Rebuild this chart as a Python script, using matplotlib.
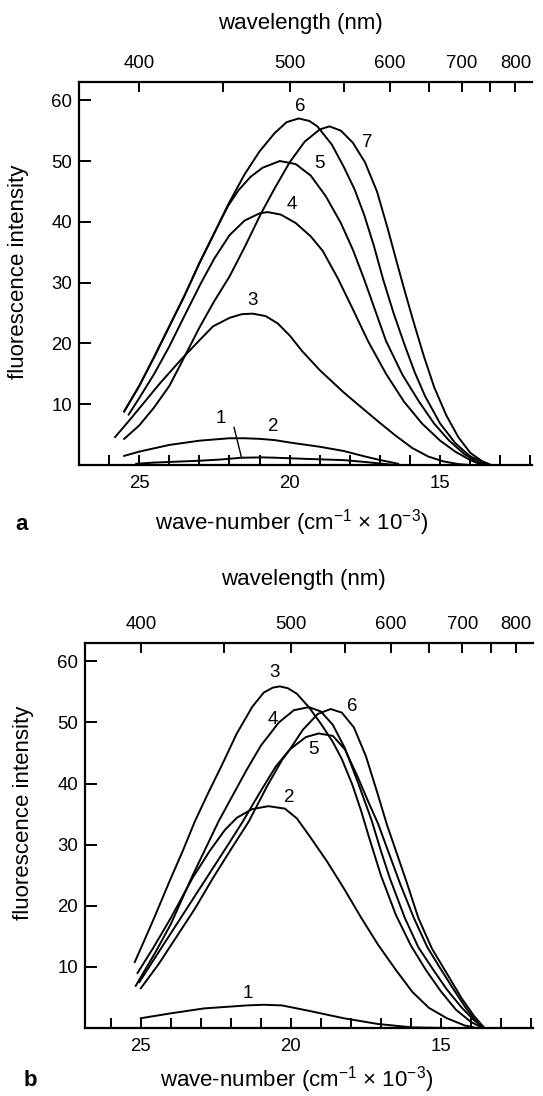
import numpy as np
import matplotlib
matplotlib.use("Agg")
import matplotlib.pyplot as plt

plt.rcParams['font.family'] = ['Liberation Sans', 'DejaVu Sans']
plt.rcParams['mathtext.default'] = 'regular'

W, H = 543, 1096

# ---------------- panel a: wave-number (x10^3 cm-1) / intensity ----------------
a1_nu = [25.1, 24.5, 24.0, 23.0, 22.3, 21.6, 20.9, 20.5, 19.4, 18.2, 17.5, 16.5]
a1_I = [0.2, 0.4, 0.5, 0.7, 0.9, 1.2, 1.25, 1.2, 1.0, 0.8, 0.5, 0.0]

a2_nu = [25.5, 25.0, 24.0, 23.0, 22.0, 21.5, 21.0, 20.5, 20.0, 19.0, 18.2, 17.5, 17.07, 16.4]
a2_I = [1.5, 2.2, 3.3, 4.0, 4.4, 4.4, 4.3, 4.1, 3.7, 3.0, 2.3, 1.4, 0.9, 0.2]

a3_nu = [25.8, 25.3, 24.8, 24.3, 23.58, 23.0, 22.55, 22.0, 21.6, 21.24, 20.8, 20.4, 20.0,
         19.58, 19.0, 18.22, 17.6, 17.07, 16.5, 15.93, 15.4, 14.9, 14.4, 14.0]
a3_I = [4.6, 7.5, 10.5, 13.5, 17.5, 20.5, 22.8, 24.2, 24.8, 24.9, 24.5, 23.3, 21.3,
        18.7, 15.6, 12.0, 9.4, 7.2, 4.9, 2.8, 1.4, 0.6, 0.15, 0.0]

a4_nu = [25.35, 25.0, 24.5, 24.0, 23.5, 22.94, 22.5, 22.0, 21.5, 21.0, 20.73, 20.3, 19.8,
         19.3, 18.9, 18.39, 17.9, 17.4, 16.8, 16.2, 15.6, 15.0, 14.5, 14.0, 13.6]
a4_I = [8.3, 11.0, 15.0, 19.5, 24.5, 30.0, 34.0, 37.8, 40.2, 41.4, 41.6, 41.2, 39.8,
        37.6, 35.2, 30.6, 25.6, 20.4, 15.0, 10.4, 6.8, 4.0, 2.2, 0.8, 0.0]

a5_nu = [25.5, 25.0, 24.5, 24.0, 23.5, 23.0, 22.5, 22.05, 21.7, 21.3, 20.9, 20.33, 19.8,
         19.3, 18.8, 18.3, 17.9, 17.53, 17.2, 16.8, 16.25, 15.7, 15.2, 14.7, 14.2, 13.8, 13.45]
a5_I = [8.8, 13.0, 17.8, 22.8, 27.8, 33.2, 38.2, 42.6, 45.2, 47.4, 48.9, 50.0, 49.5,
        47.6, 44.2, 39.8, 35.4, 30.6, 26.0, 20.4, 14.8, 10.4, 6.8, 4.0, 1.8, 0.6, 0.0]

a6_nu = [25.5, 25.0, 24.5, 24.0, 23.5, 23.0, 22.5, 22.05, 21.5, 21.0, 20.5, 20.1, 19.7,
         19.35, 19.08, 18.6, 18.22, 17.85, 17.53, 17.2, 16.9, 16.55, 16.2, 15.85, 15.5,
         15.0, 14.5, 14.0, 13.35]
a6_I = [8.8, 13.0, 17.8, 22.8, 27.8, 33.2, 38.2, 42.8, 47.8, 51.6, 54.6, 56.4, 57.0,
        56.6, 55.7, 52.7, 49.2, 45.4, 41.2, 36.0, 30.6, 25.0, 20.0, 15.3, 11.3,
        6.8, 3.6, 1.4, 0.0]

a7_nu = [25.5, 25.0, 24.5, 24.0, 23.6, 23.0, 22.5, 22.0, 21.5, 20.96, 20.5, 20.0, 19.5,
         19.0, 18.68, 18.3, 17.9, 17.5, 17.1, 16.75, 16.45, 16.2, 15.9, 15.55, 15.2, 14.8,
         14.4, 14.0, 13.6, 13.3]
a7_I = [4.3, 6.5, 9.5, 13.0, 16.8, 22.6, 27.0, 31.0, 35.8, 41.3, 45.5, 49.8, 53.2,
        55.2, 55.7, 55.0, 53.0, 49.8, 45.0, 39.0, 33.5, 29.0, 23.8, 18.0, 12.8, 8.2,
        4.6, 2.0, 0.6, 0.0]

# ---------------- panel b ----------------
b1_nu = [25.0, 24.0, 22.9, 21.45, 20.9, 20.3, 19.39, 18.24, 17.09, 15.95, 14.8]
b1_I = [1.6, 2.4, 3.2, 3.7, 3.8, 3.7, 2.8, 1.6, 0.65, 0.1, 0.0]

b2_nu = [25.11, 24.6, 24.0, 23.27, 22.7, 22.2, 21.8, 21.3, 20.75, 20.2, 19.8, 19.39, 18.8,
         18.24, 17.65, 17.09, 16.5, 15.95, 15.4, 14.8, 14.2, 13.8]
b2_I = [9.0, 13.0, 18.0, 24.6, 29.0, 32.4, 34.4, 35.8, 36.3, 35.9, 34.3, 31.5, 27.3,
        22.9, 18.0, 13.6, 9.5, 5.9, 3.3, 1.6, 0.4, 0.0]

b3_nu = [25.2, 24.6, 24.0, 23.6, 23.2, 22.75, 22.3, 21.8, 21.28, 20.9, 20.6, 20.37, 20.1,
         19.8, 19.4, 19.0, 18.6, 18.3, 17.95, 17.65, 17.4, 17.0, 16.5, 16.0, 15.5, 15.0,
         14.5, 14.0, 13.6]
b3_I = [10.8, 17.5, 24.5, 29.0, 33.8, 38.5, 43.0, 48.2, 52.6, 54.9, 55.7, 55.9, 55.6,
        54.7, 52.5, 49.8, 46.8, 44.0, 39.8, 35.4, 31.3, 25.0, 18.5, 13.5, 9.5, 6.0,
        3.0, 1.0, 0.0]

b4_nu = [25.17, 24.5, 24.0, 23.27, 22.8, 22.41, 22.0, 21.5, 21.0, 20.4, 19.9, 19.4, 19.0,
         18.6, 18.2, 17.75, 17.31, 17.0, 16.7, 16.2, 15.75, 15.25, 14.8, 14.3, 13.9, 13.55]
b4_I = [6.9, 12.5, 17.0, 25.0, 29.8, 33.8, 37.5, 42.0, 46.2, 50.0, 52.0, 52.5, 51.8,
        49.6, 45.8, 40.0, 34.0, 29.0, 24.5, 18.0, 13.2, 9.5, 6.3, 3.3, 1.3, 0.0]

b5_nu = [25.05, 24.5, 24.0, 23.5, 23.0, 22.5, 22.0, 21.6, 21.0, 20.5, 20.03, 19.5, 19.07,
         18.6, 18.2, 17.8, 17.4, 17.09, 16.8, 16.35, 15.9, 15.45, 15.05, 14.6, 14.2, 13.85, 13.55]
b5_I = [7.5, 11.7, 15.5, 19.3, 23.1, 26.9, 30.7, 33.8, 38.8, 42.8, 45.6, 47.6, 48.2,
        47.8, 45.6, 41.4, 36.8, 33.4, 29.5, 23.5, 18.0, 13.2, 10.0, 6.5, 3.5, 1.2, 0.0]

b6_nu = [25.0, 24.4, 23.8, 23.2, 22.6, 22.0, 21.4, 20.8, 20.3, 20.03, 19.6, 19.1, 18.67,
         18.3, 17.9, 17.5, 17.1, 16.8, 16.5, 16.15, 15.75, 15.3, 14.75, 14.3, 13.9, 13.55]
b6_I = [6.5, 10.5, 15.0, 19.5, 24.5, 29.2, 33.8, 39.5, 43.8, 45.6, 48.8, 51.4, 52.2,
        51.6, 49.2, 44.5, 38.2, 33.3, 29.0, 24.0, 18.0, 13.0, 8.5, 4.8, 2.0, 0.0]

curves_a = [(a1_nu, a1_I), (a2_nu, a2_I), (a3_nu, a3_I), (a4_nu, a4_I),
            (a5_nu, a5_I), (a6_nu, a6_I), (a7_nu, a7_I)]
curves_b = [(b1_nu, b1_I), (b2_nu, b2_I), (b3_nu, b3_I), (b4_nu, b4_I),
            (b5_nu, b5_I), (b6_nu, b6_I)]

# curve number labels (nu, I)
labels_a = {'6': (19.64, 58.9), '7': (17.44, 53.1), '5': (19.01, 49.6), '4': (19.93, 42.8),
            '3': (21.24, 27.0), '2': (20.55, 6.4), '1': (22.3, 7.7)}
labels_b = {'3': (20.54, 58.2), '4': (20.6, 50.5), '6': (17.94, 52.6), '5': (19.24, 45.5),
            '2': (20.06, 37.8), '1': (21.45, 5.7)}

bottom_ticks = list(range(12, 27))
bottom_labels = ['15' if t == 15 else '20' if t == 20 else '25' if t == 25 else '' for t in bottom_ticks]
top_ticks = [400, 450, 500, 550, 600, 650, 700, 750, 800]
top_labels = ['400', '', '500', '', '600', '', '700', '', '800']
y_ticks = [10, 20, 30, 40, 50, 60]


def nu2lam(x):
    x = np.asarray(x, dtype=float)
    with np.errstate(divide='ignore', invalid='ignore'):
        return 1e4 / x


def px(x, y):
    return x / W, 1 - y / H


fig = plt.figure(figsize=(W / 100, H / 100), dpi=100)

panels = [
    # axes box in pixels (left, top, right, bottom), xlim, curves, labels
    dict(box=(79, 82, 532, 465), xlim=(27.0, 11.95), curves=curves_a, labels=labels_a,
         letter='a', letter_xy=(22, 524), xlab_xy=(292, 523), toplab_xy=(300, 24),
         ylab_xy=(19, 272)),
    dict(box=(85, 643, 533, 1028), xlim=(26.86, 11.93), curves=curves_b, labels=labels_b,
         letter='b', letter_xy=(30, 1080), xlab_xy=(297, 1080), toplab_xy=(303, 580),
         ylab_xy=(24, 813)),
]

for p in panels:
    l, t, r, b = p['box']
    ax = fig.add_axes([l / W, 1 - b / H, (r - l) / W, (b - t) / H])
    for nu, inten in p['curves']:
        ax.plot(nu, inten, color='black', lw=1.4, solid_joinstyle='round')
    ax.set_xlim(*p['xlim'])
    ax.set_ylim(0, 63)

    for txt, (xv, yv) in p['labels'].items():
        ax.text(xv, yv, txt, ha='center', va='center', fontsize=13.5)

    if p['letter'] == 'a':
        ax.plot([21.85, 21.6], [6.2, 1.2], color='black', lw=1.0)

    ax.spines['right'].set_visible(False)
    ax.spines['top'].set_visible(False)
    for s in ['left', 'bottom']:
        ax.spines[s].set_linewidth(1.6)

    ax.set_xticks(bottom_ticks)
    ax.set_xticklabels(bottom_labels)
    ax.set_yticks(y_ticks)
    ax.tick_params(axis='x', direction='in', length=7.5, width=1.4, pad=7.5, labelsize=13.4)
    ax.tick_params(axis='y', direction='in', length=8.5, width=1.4, pad=5, labelsize=13.4)

    sec = ax.secondary_xaxis('top', functions=(nu2lam, nu2lam))
    sec.set_xticks(top_ticks)
    sec.set_xticklabels(top_labels)
    sec.tick_params(direction='in', length=7.5, width=1.4, pad=7.5, labelsize=13.4)
    sec.spines['top'].set_linewidth(1.6)

    fig.text(*px(*p['toplab_xy']), 'wavelength (nm)', ha='center', va='center', fontsize=16)
    fig.text(*px(*p['xlab_xy']), 'wave-number (cm$^{-1}$ × 10$^{-3}$)',
             ha='center', va='center', fontsize=16)
    fig.text(*px(*p['ylab_xy']), 'fluorescence intensity', rotation=90,
             ha='center', va='center', fontsize=16)
    fig.text(*px(*p['letter_xy']), p['letter'], ha='center', va='center',
             fontsize=16, fontweight='bold')

fig.savefig('out.png', dpi=100)
